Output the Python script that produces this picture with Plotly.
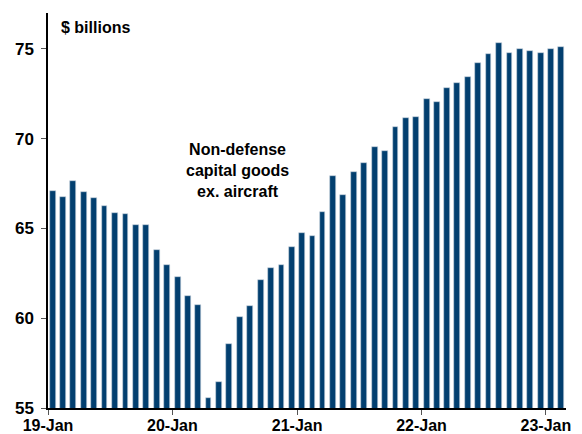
import plotly.graph_objects as go

months = [f"{y}-{m:02d}-01" for y in range(2019, 2024) for m in range(1, 13)][:50]
values = [
    67.07, 66.76, 67.63, 67.02, 66.69, 66.24, 65.85, 65.81, 65.19, 65.19, 63.80, 62.94,
    62.30, 61.24, 60.72, 55.56, 56.46, 58.56, 60.09, 60.70, 62.15, 62.81, 62.96, 63.94,
    64.74, 64.56, 65.89, 67.94, 66.87, 68.15, 68.63, 69.52, 69.30, 70.63, 71.13, 71.19,
    72.19, 72.02, 72.85, 73.11, 73.46, 74.19, 74.70, 75.35, 74.80, 75.02, 74.91, 74.76,
    75.00, 75.13,
]
y_ticks = [55, 60, 65, 70, 75]
x_ticks = ["2019-01-01", "2020-01-01", "2021-01-01", "2022-01-01", "2023-01-01"]
x_ticklabels = ["19-Jan", "20-Jan", "21-Jan", "22-Jan", "23-Jan"]

FONT = "Liberation Sans, Arial, sans-serif"
month_ms = 30.44 * 86400000

fig = go.Figure(
    go.Bar(
        x=months,
        y=values,
        xperiod="M1",
        xperiodalignment="middle",
        width=[0.56 * month_ms] * len(values),
        marker=dict(color="#023f6f", line=dict(color="#c9d3dd", width=0.6)),
    )
)

fig.update_layout(
    width=582,
    height=434,
    margin=dict(l=48, r=16, t=13, b=26),
    paper_bgcolor="white",
    plot_bgcolor="white",
    showlegend=False,
    bargap=0,
    font=dict(family=FONT, size=14, color="black"),
    xaxis=dict(
        type="date",
        range=["2019-01-01", "2023-03-01"],
        tickmode="array",
        tickvals=x_ticks,
        ticktext=x_ticklabels,
        ticks="outside",
        ticklen=5,
        tickwidth=1,
        tickcolor="#555",
        showline=True,
        linecolor="black",
        linewidth=1.5,
        showgrid=False,
        zeroline=False,
        automargin=False,
        ticklabelstandoff=-3,
        tickfont=dict(family=FONT, size=16, color="black", weight="bold"),
    ),
    yaxis=dict(
        range=[55, 77],
        tickmode="array",
        tickvals=y_ticks,
        ticks="outside",
        ticklen=5,
        tickwidth=1,
        tickcolor="#555",
        showline=True,
        linecolor="black",
        linewidth=1.5,
        showgrid=False,
        zeroline=False,
        automargin=False,
        ticklabelstandoff=4,
        tickfont=dict(family=FONT, size=17, color="black", weight="bold"),
    ),
    annotations=[
        dict(
            text="<b>$ billions</b>",
            xref="paper", yref="paper",
            x=(59 - 48) / 518, y=(408 - 28) / 395,
            xanchor="left", yanchor="middle",
            showarrow=False,
            font=dict(family=FONT, size=16, color="black"),
        ),
        dict(
            text="<b>Non-defense<br>capital goods<br>ex. aircraft</b>",
            xref="paper", yref="paper",
            x=(237 - 48) / 518, y=(408 - 170) / 395,
            xanchor="center", yanchor="middle",
            showarrow=False,
            align="center",
            font=dict(family=FONT, size=16, color="black"),
        ),
    ],
)

fig.write_html("out.html")
